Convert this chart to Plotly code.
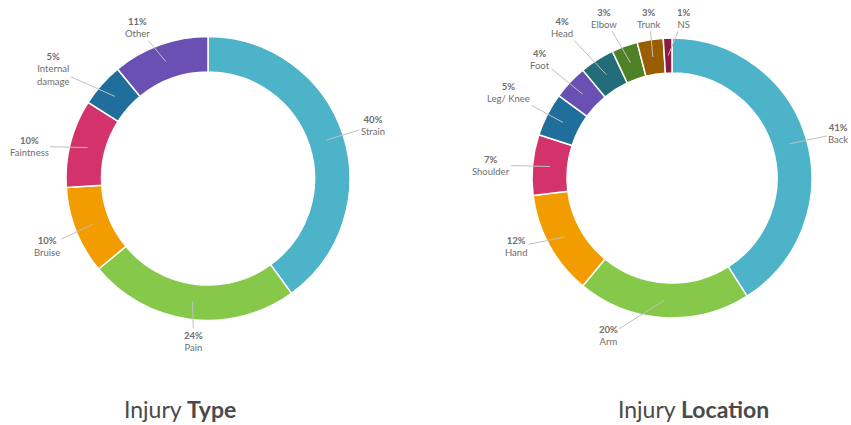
import math
import plotly.graph_objects as go

W, H = 851, 425

# Injury type breakdown (share of cases, %)
type_labels = ["Strain", "Pain", "Bruise", "Faintness", "Internal<br>damage", "Other"]
type_values = [40, 24, 10, 10, 5, 11]
type_colors = ["#4DB3C8", "#86C94A", "#F39C00", "#D3336A", "#1F6E9C", "#6A50B3"]

# Injury location breakdown (share of cases, %)
loc_labels = ["Back", "Arm", "Hand", "Shoulder", "Leg/ Knee", "Foot", "Head", "Elbow", "Trunk", "NS"]
loc_values = [41, 20, 12, 7, 5, 4, 4, 3, 3, 1]
loc_colors = ["#4DB3C8", "#86C94A", "#F39C00", "#D3336A", "#1F6E9C", "#6A50B3",
              "#236D7A", "#4F8126", "#9A5E00", "#8A1C43"]

# layout of each ring: centre (px), outer radius (px), label radius, label nudges
charts = [
    dict(labels=type_labels, values=type_values, colors=type_colors,
         cx=208, cy=178.5, r=142, r_label=170, title="Injury <b>Type</b>", title_x=180,
         nudge=[(3, 0), (7, -6), (-3, 5), (-14, 10), (-27, 3), (-13, 9)]),
    dict(labels=loc_labels, values=loc_values, colors=loc_colors,
         cx=672, cy=178, r=140, r_label=170, title="Injury <b>Location</b>", title_x=693,
         nudge=[(3, 3), (-53, -12), (-7, -13), (-12, 3), (-12, -8), (-8, -2),
                (-19, -7), (-10, 0), (4, 8), (17, 10)]),
]

fig = go.Figure()
annotations = []
for c in charts:
    cx, cy, r = c["cx"], c["cy"], c["r"]
    fig.add_trace(go.Pie(
        labels=c["labels"], values=c["values"],
        marker=dict(colors=c["colors"], line=dict(color="white", width=1.5)),
        hole=0.75, sort=False, direction="clockwise", rotation=0,
        textinfo="none", hoverinfo="label+percent", showlegend=False,
        domain=dict(x=[(cx - r) / W, (cx + r) / W], y=[1 - (cy + r) / H, 1 - (cy - r) / H]),
    ))
    total = sum(c["values"])
    cum = 0
    r_mid = r * (1 + 0.75) / 2
    for lab, val, (nx, ny) in zip(c["labels"], c["values"], c["nudge"]):
        theta = math.radians((cum + val / 2) / total * 360)
        cum += val
        sx, sy = math.sin(theta), -math.cos(theta)
        px, py = cx + r_mid * sx, cy + r_mid * sy
        lx, ly = cx + c["r_label"] * sx + nx, cy + c["r_label"] * sy + ny
        pct = round(val / total * 100)
        annotations.append(dict(
            x=px / W, y=1 - py / H, xref="paper", yref="paper",
            ax=lx - px, ay=ly - py, axref="pixel", ayref="pixel",
            text=f"<b>{pct}%</b><br>{lab}", showarrow=True, arrowhead=0,
            arrowwidth=1, arrowcolor="#BFBFBF", standoff=0, startstandoff=0,
            font=dict(family="Lato, Open Sans, sans-serif", size=9.5, color="#6E6E6E"),
            align="center",
        ))
    annotations.append(dict(
        x=c["title_x"] / W, y=1 - 409 / H, xref="paper", yref="paper",
        text=c["title"], showarrow=False, xanchor="center", yanchor="middle",
        font=dict(family="Lato, Open Sans, sans-serif", size=23, color="#4A4A4A"),
    ))

fig.update_layout(
    width=W, height=H, margin=dict(l=0, r=0, t=0, b=0),
    paper_bgcolor="white", plot_bgcolor="white",
    annotations=annotations,
)

fig.write_html("out.html")
